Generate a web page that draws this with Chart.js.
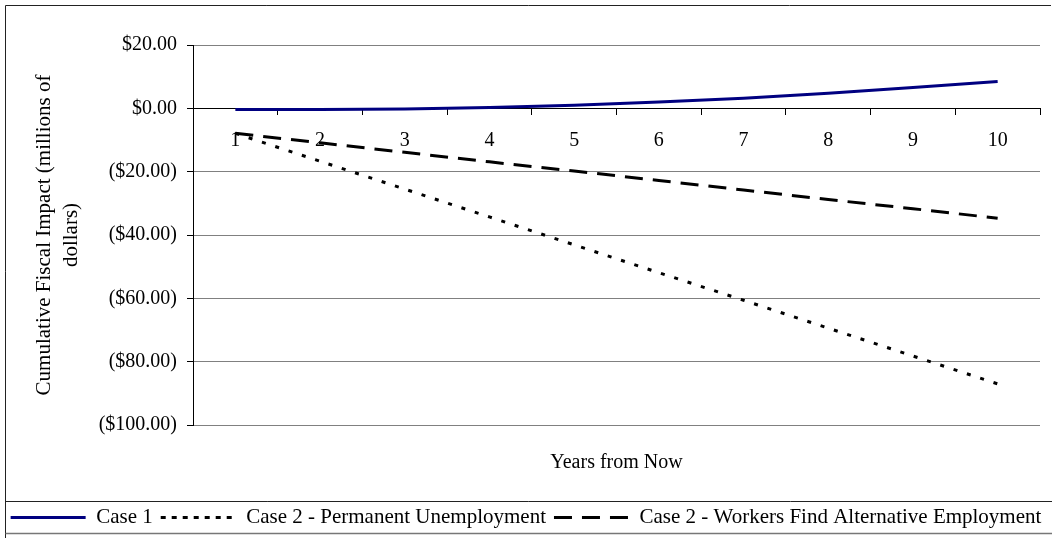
<!DOCTYPE html>
<html>
<head>
<meta charset="utf-8">
<title>Cumulative Fiscal Impact</title>
<script src="https://cdn.jsdelivr.net/npm/chart.js@4/dist/chart.umd.min.js"></script>
<style>
  html, body { margin: 0; padding: 0; background: #ffffff; }
  #wrap { width: 1052px; height: 538px; }
  canvas { display: block; }
</style>
</head>
<body>
<div id="wrap"><canvas id="chart" width="1052" height="538"></canvas></div>
<script>
// Years from now (category labels on the x axis)
const years = ['1', '2', '3', '4', '5', '6', '7', '8', '9', '10'];

// Cumulative fiscal impact, millions of dollars
const case1 = [-0.4, -0.4, -0.2, 0.3, 1.0, 2.0, 3.2, 4.8, 6.6, 8.5];
const permanentUnemployment = [-7.9, -16.7, -25.5, -34.3, -43.1, -51.9, -60.6, -69.4, -78.2, -87.0];
const alternativeEmployment = [-7.9, -10.9, -13.9, -16.9, -19.8, -22.8, -25.8, -28.8, -31.7, -34.7];

const seriesNames = [
  'Case 1',
  'Case 2 - Permanent Unemployment',
  'Case 2 - Workers Find Alternative Employment'
];

const yAxisTitle = ['Cumulative Fiscal Impact (millions of', 'dollars)'];
const xAxisTitle = 'Years from Now';

const SERIF = "'Liberation Serif', 'Times New Roman', Times, serif";

// Dash patterns: plot lines and their legend samples
const DOTS = [4, 10];
const DOTS_LEGEND = [5, 6];
const DASHES = [18, 10];

// Accounting-style currency: negatives in parentheses
function money(v) {
  const s = '$' + Math.abs(v).toFixed(2);
  return v < 0 ? '(' + s + ')' : s;
}

// Outer frame and the ruled box around the legend
const framePlugin = {
  id: 'frame',
  beforeDraw(chart) {
    const ctx = chart.ctx;
    ctx.save();
    ctx.fillStyle = '#ffffff';
    ctx.fillRect(0, 0, chart.width, chart.height);
    ctx.restore();
  },
  afterDraw(chart) {
    const ctx = chart.ctx;
    const lg = chart.legend;
    ctx.save();
    ctx.lineWidth = 1;
    ctx.strokeStyle = '#222222';
    ctx.beginPath();
    ctx.moveTo(5.5, 5.5);
    ctx.lineTo(5.5, chart.height);
    ctx.moveTo(5.5, 5.5);
    ctx.lineTo(1051, 5.5);
    ctx.stroke();
    if (lg) {
      const t = Math.round(lg.top + 2) + 0.5;
      const b = Math.round(lg.bottom - 5) + 0.5;
      ctx.beginPath();
      ctx.moveTo(5.5, t);
      ctx.lineTo(chart.width, t);
      ctx.stroke();
      ctx.strokeStyle = '#777777';
      ctx.lineWidth = 1.5;
      ctx.beginPath();
      ctx.moveTo(5.5, b);
      ctx.lineTo(chart.width, b);
      ctx.stroke();
    }
    ctx.restore();
  }
};

new Chart(document.getElementById('chart'), {
  type: 'line',
  data: {
    labels: years,
    datasets: [
      {
        label: seriesNames[0],
        data: case1,
        borderColor: '#000080',
        backgroundColor: '#000080',
        borderWidth: 3,
        pointRadius: 0,
        tension: 0,
        xAxisID: 'x',
        yAxisID: 'y'
      },
      {
        label: seriesNames[1],
        data: permanentUnemployment,
        borderColor: '#000000',
        backgroundColor: '#000000',
        borderWidth: 3,
        borderDash: DOTS,
        pointRadius: 0,
        tension: 0,
        xAxisID: 'x',
        yAxisID: 'y'
      },
      {
        label: seriesNames[2],
        data: alternativeEmployment,
        borderColor: '#000000',
        backgroundColor: '#000000',
        borderWidth: 3,
        borderDash: DASHES,
        pointRadius: 0,
        tension: 0,
        xAxisID: 'x',
        yAxisID: 'y'
      }
    ]
  },
  options: {
    responsive: false,
    animation: false,
    devicePixelRatio: 1,
    layout: { padding: { top: 45, right: 0, bottom: 0, left: 0 } },
    plugins: {
      tooltip: { enabled: false },
      legend: {
        position: 'bottom',
        labels: {
          color: '#000000',
          font: { family: SERIF, size: 21 },
          usePointStyle: true,
          pointStyle: 'line',
          pointStyleWidth: 75,
          padding: 8,
          generateLabels(chart) {
            const items = Chart.defaults.plugins.legend.labels.generateLabels(chart);
            items.forEach(it => {
              if (it.datasetIndex === 0) it.lineDash = [];
              if (it.datasetIndex === 1) it.lineDash = DOTS_LEGEND.slice();
              if (it.datasetIndex === 2) it.lineDash = DASHES.slice();
              it.lineWidth = 3;
            });
            return items;
          }
        }
      }
    },
    scales: {
      x: {
        type: 'category',
        position: { y: 0 },
        offset: true,
        grid: {
          offset: true,
          drawOnChartArea: false,
          drawTicks: true,
          tickLength: 6,
          tickColor: '#000000'
        },
        border: { display: true, color: '#000000', width: 1 },
        ticks: {
          color: '#000000',
          font: { family: SERIF, size: 20 },
          padding: 14,
          maxRotation: 0,
          autoSkip: false
        }
      },
      x2: {
        type: 'category',
        position: 'bottom',
        grid: { display: false, drawTicks: false },
        border: { display: false },
        ticks: { display: false },
        title: {
          display: true,
          text: xAxisTitle,
          color: '#000000',
          font: { family: SERIF, size: 20, lineHeight: 1.2 },
          padding: { top: 26, bottom: 24 }
        }
      },
      y: {
        position: 'left',
        min: -100,
        max: 20,
        ticks: {
          stepSize: 20,
          color: '#000000',
          font: { family: SERIF, size: 20 },
          padding: 10,
          callback: (v) => money(v)
        },
        grid: {
          color: '#808080',
          lineWidth: 1,
          tickColor: '#000000',
          tickLength: 6
        },
        border: { display: true, color: '#000000', width: 1 },
        title: {
          display: true,
          text: yAxisTitle,
          color: '#000000',
          font: { family: SERIF, size: 21, lineHeight: '27px' },
          padding: { top: 31, bottom: 0 }
        },
        afterFit(scale) { scale.width = 193; }
      },
      // empty right margin beside the plot
      yRight: {
        type: 'linear',
        position: 'right',
        grid: { display: false, drawTicks: false },
        border: { display: false },
        ticks: { display: false },
        afterFit(scale) { scale.width = 12; }
      }
    }
  },
  plugins: [framePlugin]
});
</script>
</body>
</html>
